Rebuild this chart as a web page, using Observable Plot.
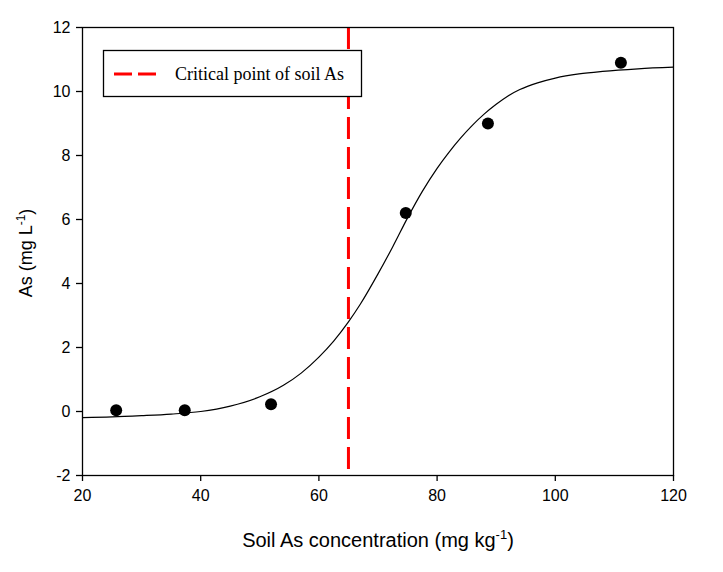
<!DOCTYPE html>
<html><head><meta charset="utf-8">
<script src="https://cdn.jsdelivr.net/npm/d3@7"></script>
<script src="https://cdn.jsdelivr.net/npm/@observablehq/plot@0.6"></script>
<style>
body{margin:0;background:#fff;}
#wrap{position:relative;width:723px;height:572px;}
</style></head><body><div id="wrap"></div>
<script>
// Observed points
const soilAs = [25.7, 37.3, 51.9, 74.7, 88.6, 111.1];
const waterAs = [0.04, 0.04, 0.23, 6.2, 9.0, 10.9];
// Fitted curve
const fitX = [20, 25, 30, 35, 40, 45, 50, 54, 57, 60, 62.5, 65, 67, 70, 72.5, 75, 77.5, 80, 82, 84, 86, 88, 90, 92, 94, 97, 100, 104, 108, 114, 120];
const fitY = [-0.19, -0.17, -0.13, -0.08, 0.0, 0.17, 0.46, 0.82, 1.2, 1.7, 2.2, 2.8, 3.35, 4.3, 5.15, 6.05, 6.88, 7.6, 8.1, 8.55, 8.95, 9.3, 9.6, 9.86, 10.06, 10.27, 10.42, 10.55, 10.63, 10.71, 10.76];
const criticalPoint = [65];
const xTicks = [20, 40, 60, 80, 100, 120];
const yTicks = [-2, 0, 2, 4, 6, 8, 10, 12];
const legendLabel = "Critical point of soil As";

const points = soilAs.map((x, i) => ({x, y: waterAs[i]}));
const fit = fitX.map((x, i) => ({x, y: fitY[i]}));

const chart = Plot.plot({
  width: 723, height: 572,
  marginLeft: 82, marginTop: 27, marginRight: 50, marginBottom: 97,
  x: {domain: [20, 120]},
  y: {domain: [-2, 12]},
  style: {fontFamily: "'Liberation Sans', Arial, sans-serif", fontSize: "16px", color: "black", background: "white", overflow: "visible"},
  marks: [
    Plot.ruleX(criticalPoint, {stroke: "red", strokeWidth: 3, strokeDasharray: "22,8"}),
    Plot.line(fit, {x: "x", y: "y", curve: "monotone-x", stroke: "black", strokeWidth: 1.2}),
    Plot.dot(points, {x: "x", y: "y", r: 6, fill: "black", stroke: "none"}),
    Plot.frame({stroke: "black", strokeWidth: 1.3}),
    Plot.axisX({ticks: xTicks, tickSize: 6, tickPadding: 8, label: null, fontSize: 16, strokeWidth: 1.3, tickFormat: d => String(d)}),
    Plot.axisY({ticks: yTicks, tickSize: 6, tickPadding: 6, label: null, fontSize: 16, strokeWidth: 1.3, tickFormat: d => String(d)})
  ]
});
document.getElementById("wrap").appendChild(chart);

const svg = d3.select(chart);
// X axis title
const xt = svg.append("text")
  .attr("x", 378).attr("y", 547).attr("text-anchor", "middle")
  .style("font-family", "'Liberation Sans', Arial, sans-serif").style("font-size", "20px").attr("fill", "black");
xt.append("tspan").text("Soil As concentration (mg kg");
xt.append("tspan").text("-1").attr("dy", -8).style("font-size", "13px");
xt.append("tspan").text(")").attr("dy", 8);
// Y axis title
const yt = svg.append("text")
  .attr("transform", "translate(32,253) rotate(-90)").attr("text-anchor", "middle")
  .style("font-family", "'Liberation Sans', Arial, sans-serif").style("font-size", "18px").attr("fill", "black");
yt.append("tspan").text("As (mg L");
yt.append("tspan").text("-1").attr("dy", -7).style("font-size", "12px");
yt.append("tspan").text(")").attr("dy", 7);
// Legend
const lg = svg.append("g");
lg.append("rect").attr("x", 103.5).attr("y", 50.5).attr("width", 258).attr("height", 46)
  .style("fill", "white").style("stroke", "black").style("stroke-width", "1.3px");
lg.append("line").attr("x1", 114).attr("x2", 157).attr("y1", 74).attr("y2", 74)
  .style("stroke", "red").style("stroke-width", "3px").style("stroke-dasharray", "18,6");
lg.append("text").attr("x", 175).attr("y", 80).attr("text-anchor", "start").text(legendLabel)
  .style("font-family", "'Liberation Serif', 'Times New Roman', serif").style("font-size", "18px").style("fill", "black");
</script></body></html>
